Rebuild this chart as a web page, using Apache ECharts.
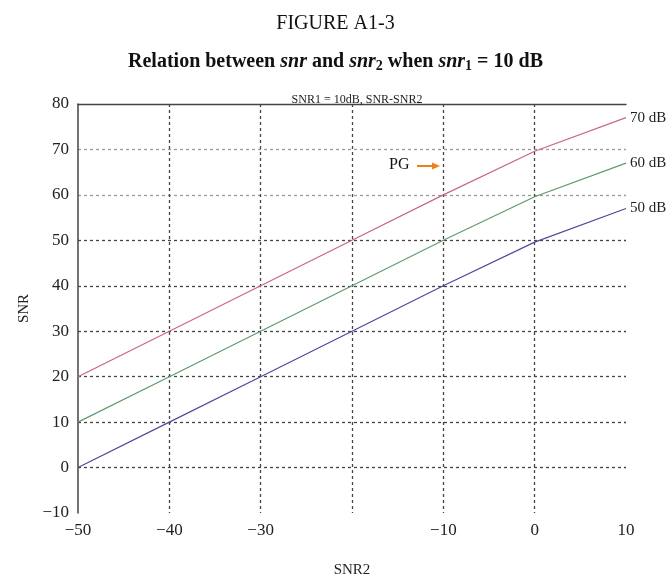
<!DOCTYPE html>
<html><head><meta charset="utf-8">
<script src="https://cdn.jsdelivr.net/npm/echarts@6/dist/echarts.min.js"></script>
<style>html,body{margin:0;padding:0;background:#fff}#c{width:671px;height:583px}</style>
</head><body><div id="c"></div>
<script>
const snr2 = [-50, -40, -30, -20, -10, 0, 10];
const pg70 = [20, 30, 40, 50, 60, 69.6, 77];
const pg60 = [10, 20, 30, 40, 50, 59.6, 67];
const pg50 = [0, 10, 20, 30, 40, 49.6, 57];
const seriesNames = ['70 dB', '60 dB', '50 dB'];
const xTicks = [-50, -40, -30, -10, 0, 10];
const yTicks = [-10, 0, 10, 20, 30, 40, 50, 60, 70, 80];

const FONT = '"Liberation Serif", "DejaVu Serif", serif';
const fmt = v => (v < 0 ? '\u2212' + Math.abs(v) : String(v));
const pairs = arr => snr2.map((x, i) => [x, arr[i]]);

const chart = echarts.init(document.getElementById('c'));
const mk = (name, data, color) => ({
  name, type: 'line', data: pairs(data), symbol: 'none',
  lineStyle: { color, width: 1.2 },
  endLabel: { show: true, formatter: name, fontFamily: FONT, fontSize: 15, color: '#222', distance: 4 },
  z: 3
});
chart.setOption({
  animation: false,
  title: [
    { text: 'FIGURE A1-3', left: 'center', top: 9, textStyle: { fontFamily: FONT, fontWeight: 'normal', fontSize: 20, color: '#111' } },
    { text: '{b|Relation between }{i|snr}{b| and }{i|snr}{s|2}{b| when }{i|snr}{s|1}{b| = 10 dB}', left: 'center', top: 46,
      textStyle: { rich: {
        b: { fontFamily: FONT, fontWeight: 'bold', fontSize: 20, color: '#111' },
        i: { fontFamily: FONT, fontWeight: 'bold', fontStyle: 'italic', fontSize: 20, color: '#111' },
        s: { fontFamily: FONT, fontWeight: 'bold', fontSize: 14, color: '#111', padding: [8, 0, 0, 0] }
      } } },
    { text: 'SNR1 = 10dB, SNR-SNR2', left: 352, textAlign: 'center', top: 89, textStyle: { fontFamily: FONT, fontWeight: 'normal', fontSize: 12, color: '#222' } }
  ],
  grid: { left: 78, right: 45, top: 104, bottom: 70 },
  xAxis: [{
    type: 'value', min: -50, max: 10, interval: 10,
    name: 'SNR2', nameLocation: 'middle', nameGap: 50,
    nameTextStyle: { fontFamily: FONT, fontSize: 15, color: '#222' },
    axisLine: { show: false }, axisTick: { show: false },
    axisLabel: { fontFamily: FONT, fontSize: 17, color: '#222', margin: 9,
      formatter: v => (xTicks.indexOf(v) >= 0 ? fmt(v) : '') },
    splitLine: { show: true, lineStyle: { type: [3, 3], width: 1.3,
      color: ['rgba(0,0,0,0)', '#444', '#444', '#444', '#444', '#444', 'rgba(0,0,0,0)'] } }
  }, {
    type: 'value', position: 'top', min: -50, max: 10, interval: 10,
    axisLine: { show: true, onZero: false, lineStyle: { color: '#444', width: 1.3 } },
    axisTick: { show: false }, axisLabel: { show: false }, splitLine: { show: false }
  }],
  yAxis: {
    type: 'value', min: -10, max: 80, interval: 10,
    name: 'SNR', nameLocation: 'middle', nameGap: 45,
    nameTextStyle: { fontFamily: FONT, fontSize: 15, color: '#222' },
    axisLine: { show: true, onZero: false, lineStyle: { color: '#444', width: 1.5 } },
    axisTick: { show: false },
    axisLabel: { fontFamily: FONT, fontSize: 17, color: '#222', margin: 9,
      formatter: v => (yTicks.indexOf(v) >= 0 ? fmt(v) : '') },
    splitLine: { show: true, lineStyle: { type: [3, 3], width: 1.3,
      color: ['rgba(0,0,0,0)', '#444', '#444', '#444', '#444', '#444', '#444', '#9a9a9a', '#9a9a9a', 'rgba(0,0,0,0)'] } }
  },
  series: [
    mk(seriesNames[0], pg70, '#c8687c'),
    mk(seriesNames[1], pg60, '#5f9a6c'),
    mk(seriesNames[2], pg50, '#4c4a9c')
  ],
  graphic: [
    { type: 'text', left: 389, top: 157, style: { text: 'PG', font: '16px ' + FONT, fill: '#111' } },
    { type: 'line', shape: { x1: 417, y1: 166, x2: 434, y2: 166 }, style: { stroke: '#f07f1a', lineWidth: 2 } },
    { type: 'polygon', shape: { points: [[440, 166], [432, 162.5], [432, 169.5]] }, style: { fill: '#f07f1a' } }
  ]
});
</script></body></html>
